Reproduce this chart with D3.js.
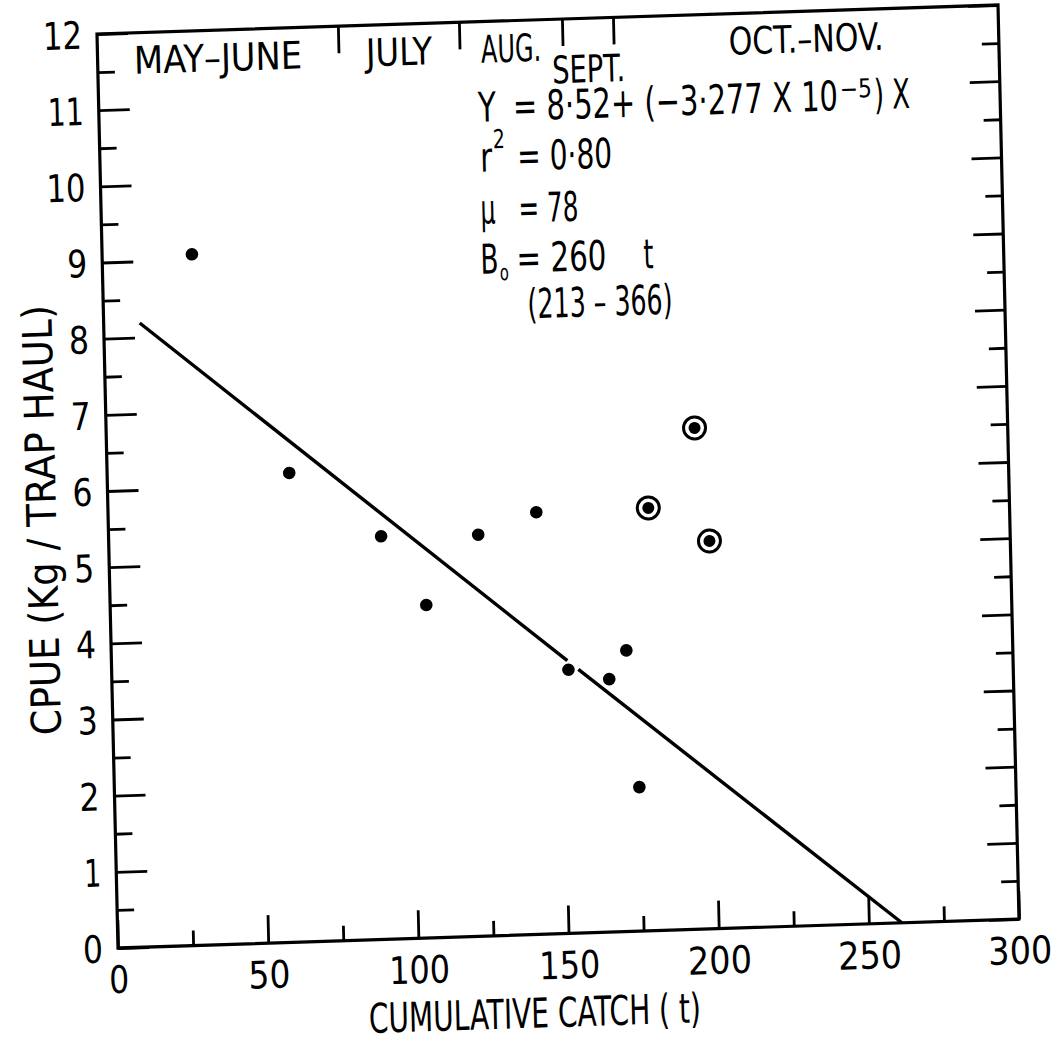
<!DOCTYPE html>
<html><head><meta charset="utf-8">
<script src="https://cdn.jsdelivr.net/npm/d3@7"></script>
<style>
body{margin:0;background:#fff;}
svg{display:block;background:#fff;}
text{font-family:"DejaVu Sans Condensed","Liberation Sans Narrow","Roboto Condensed","DejaVu Sans",sans-serif;font-stretch:condensed;fill:#000;}
</style></head><body>
<svg id="chart" width="1062" height="1046"></svg>
<script>
// ---- data ----
const catchX = [29.9, 60.6, 90.7, 105.2, 123.0, 142.5, 152.0, 165.5, 171.4, 174.7];
const cpueY  = [9.07, 6.16, 5.29, 4.37, 5.27, 5.54, 3.46, 3.32, 3.69, 1.89];
const circledX = [179.8, 195.8, 199.9];
const circledY = [5.55, 6.58, 5.09];
const fitSegX = [[12, 151.7], [155.3, 261]];
const fitSegY = [[8.19, 3.58], [3.46, 0]];
const monthBounds = [80.2, 120.5, 154.8, 171.8];
const monthLabels = ["MAY–JUNE", "JULY", "AUG.", "SEPT.", "OCT.–NOV."];
const xTickValues = [0, 25, 50, 75, 100, 125, 150, 175, 200, 225, 250, 275, 300];
const xTickLabels = [0, 50, 100, 150, 200, 250, 300];
const yTickValues = [0,0.5,1,1.5,2,2.5,3,3.5,4,4.5,5,5.5,6,6.5,7,7.5,8,8.5,9,9.5,10,10.5,11,11.5,12];
const yTickLabels = [0,1,2,3,4,5,6,7,8,9,10,11,12];

// ---- layout ----
const W = 901, H = 914;
const svg = d3.select("#chart");
svg.append("rect").attr("width",1062).attr("height",1046).attr("fill","#fff");
// the scanned figure is slightly skewed/rotated
const g = svg.append("g").attr("transform","matrix(1,-0.03219,0.02298,1,97,34)");

const x = d3.scaleLinear().domain([0,300]).range([0,W]);
const y = d3.scaleLinear().domain([0,12]).range([H,0]);

const FS = 38;
// narrow lettering: width of a label string
const labW = s => String(s).split("").reduce((a,c)=>a+(c==="1"?17:20),0) + 2*(String(s).length-1);

function styleAxis(sel){
  sel.select(".domain").remove();
  sel.selectAll(".tick line").attr("stroke","#000").attr("stroke-width",2.8);
  sel.selectAll(".tick text").attr("fill","#000").style("font-size",FS+"px")
    .each(function(d){ const s = d3.select(this).text(); if (s) d3.select(this).attr("textLength",labW(s)).attr("lengthAdjust","spacingAndGlyphs"); });
}

// left axis
const gl = g.append("g").call(
  d3.axisLeft(y).tickValues(yTickValues).tickSizeInner(-31).tickSizeOuter(0).tickPadding(15)
    .tickFormat(d => yTickLabels.includes(d) ? d : ""));
styleAxis(gl);
gl.selectAll(".tick").filter(d => !Number.isInteger(d)).select("line").attr("x2",17);
gl.selectAll(".tick text").attr("dy","0.36em");

// right axis
const gr = g.append("g").attr("transform",`translate(${W},0)`).call(
  d3.axisRight(y).tickValues(yTickValues).tickSizeInner(-30).tickSizeOuter(0).tickFormat(""));
styleAxis(gr);
gr.selectAll(".tick").filter(d => !Number.isInteger(d)).select("line").attr("x2",-17);

// bottom axis
const gb = g.append("g").attr("transform",`translate(0,${H})`).call(
  d3.axisBottom(x).tickValues(xTickValues).tickSizeInner(-28).tickSizeOuter(0).tickPadding(18)
    .tickFormat(d => xTickLabels.includes(d) ? d : ""));
styleAxis(gb);
gb.selectAll(".tick").filter(d => d % 50 !== 0).select("line").attr("y2",-15);

// top axis: month boundaries
const gt = g.append("g").call(
  d3.axisTop(x).tickValues(monthBounds).tickSizeInner(-27).tickSizeOuter(0).tickFormat(""));
styleAxis(gt);

// frame
g.append("rect").attr("x",0).attr("y",0).attr("width",W).attr("height",H)
  .attr("fill","none").attr("stroke","#000").attr("stroke-width",3.2);

// month labels centred between boundaries
const edges = [0, ...monthBounds, 300];
const monthLen = [168, 66, 60, 73, 155];
monthLabels.forEach((m,i) => {
  const cx = (x(edges[i]) + x(edges[i+1]))/2;
  g.append("text").attr("x",cx).attr("y", m === "SEPT." ? 64 : 41)
    .attr("text-anchor","middle").style("font-size",FS+"px")
    .attr("textLength",monthLen[i]).attr("lengthAdjust","spacingAndGlyphs").text(m);
});

// regression line (two pieces, as drawn)
fitSegX.forEach((sx,i) => {
  g.append("line").attr("x1",x(sx[0])).attr("y1",y(fitSegY[i][0]))
    .attr("x2",x(sx[1])).attr("y2",y(fitSegY[i][1]))
    .attr("stroke","#000").attr("stroke-width",3.4).attr("stroke-linecap","butt");
});

// points
g.selectAll("circle.pt").data(catchX).join("circle").attr("class","pt")
  .attr("cx",(d)=>x(d)).attr("cy",(d,i)=>y(cpueY[i])).attr("r",6.3).attr("fill","#000");
g.selectAll("circle.ring").data(circledX).join("circle").attr("class","ring")
  .attr("cx",(d)=>x(d)).attr("cy",(d,i)=>y(circledY[i])).attr("r",11)
  .attr("fill","none").attr("stroke","#000").attr("stroke-width",3);
g.selectAll("circle.cdot").data(circledX).join("circle").attr("class","cdot")
  .attr("cx",(d)=>x(d)).attr("cy",(d,i)=>y(circledY[i])).attr("r",6).attr("fill","#000");

// annotation block
const EF = 41;
function t(xp, yp, str, size, len){
  const e = g.append("text").attr("x",xp).attr("y",yp).style("font-size",size+"px").text(str);
  if (len) e.attr("textLength",len).attr("lengthAdjust","spacingAndGlyphs");
  return e;
}
t(379, 100, "Y", EF, 18);
t(414, 100, "= 8·52+ (−3·277 X 10", EF, 325);
t(741, 88, "−5", 26, 32);
t(775, 100, ") X", EF, 36);
t(380, 150, "r", EF, 12);
t(393, 127, "2", 26, 12);
t(417, 150, "= 0·80", EF, 95);
t(379, 202, "μ", EF, 15);
t(417, 202, "= 78", EF, 60);
t(378, 252, "B", EF, 18);
t(397, 259, "o", 22, 9);
t(414, 252, "= 260", EF, 90);
t(541, 252, "t", EF, 10);
t(424, 298, "(213 – 366)", EF, 145);

// axis titles
g.append("text").attr("transform",`translate(-52,484) rotate(-90)`)
  .attr("text-anchor","middle").style("font-size","41px")
  .attr("textLength",430).attr("lengthAdjust","spacingAndGlyphs")
  .text("CPUE (Kg / TRAP HAUL)");
g.append("text").attr("x",415).attr("y",H+93)
  .attr("text-anchor","middle").style("font-size","41px")
  .attr("textLength",332).attr("lengthAdjust","spacingAndGlyphs")
  .text("CUMULATIVE CATCH (  t)");
</script>
</body></html>
